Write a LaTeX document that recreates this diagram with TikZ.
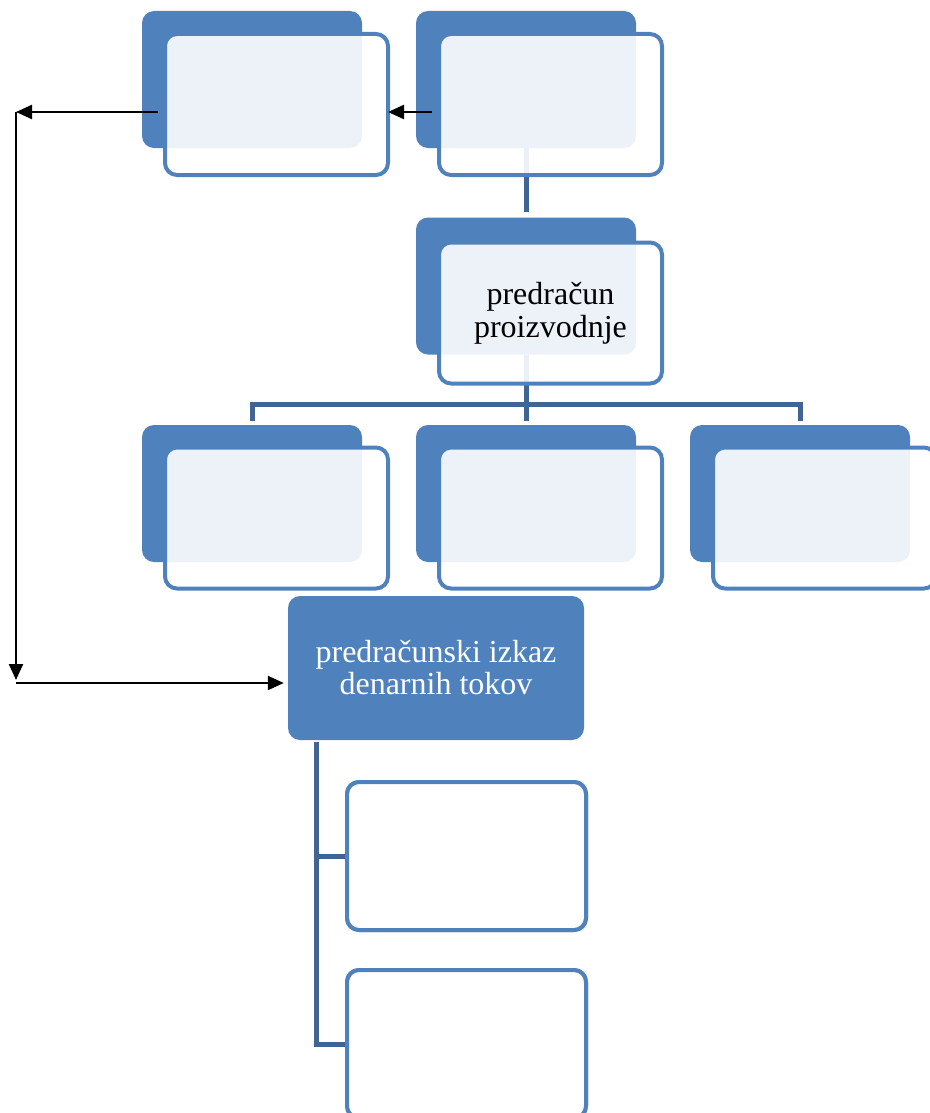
\documentclass[tikz,border=0pt]{standalone}
\usepackage{fontspec}
\setmainfont{Liberation Serif}
\usetikzlibrary{arrows.meta}
\definecolor{accblue}{RGB}{79,129,189}
\definecolor{connblue}{RGB}{64,100,148}
\begin{document}
\begin{tikzpicture}[x=1pt,y=1pt,
  back/.style={rectangle,rounded corners=12pt,fill=accblue,minimum width=220pt,minimum height=137pt,inner sep=0pt},
  front/.style={rectangle,rounded corners=12pt,fill=white,fill opacity=0.9,text opacity=1,draw=accblue,draw opacity=1,line width=4pt,minimum width=223pt,minimum height=141pt,inner sep=0pt,align=center,font=\fontsize{32}{33}\selectfont},
  dark/.style={rectangle,rounded corners=12pt,fill=accblue,minimum width=296pt,minimum height=144pt,inner sep=0pt,align=center,text=white,font=\fontsize{32}{32}\selectfont},
  plain/.style={rectangle,rounded corners=12pt,fill=white,draw=accblue,line width=4pt,minimum width=239pt,minimum height=148pt,inner sep=0pt},
  conn/.style={draw=connblue,line width=5pt},
  arr/.style={draw=black,line width=2.2pt,-{Triangle[length=16pt,width=14pt]}}]
\useasboundingbox (0,0) rectangle (929,-1113);
% back boxes
\node[back] (bTL) at (252,-79.5) {};
\node[back] (bTM) at (526,-79.5) {};
\node[back] (bM) at (526,-286) {};
\node[back] (bR1) at (252,-493.5) {};
\node[back] (bR2) at (526,-493.5) {};
\node[back] (bR3) at (800,-493.5) {};
% connectors
\coordinate (bus) at (526,-404);
\draw[conn,shorten >=5pt] (bTM.south) -- (bM.north);
\draw[conn] (bM.south) -- (bus);
\draw[conn] ([yshift=4pt]bR1.north) |- (bus) -| ([yshift=4pt]bR3.north);
\draw[conn] (bus) -- ([yshift=4pt]bR2.north);
% front boxes
\node[front] (fTL) at (276.5,-104.5) {};
\node[front] (fTM) at (550.5,-104.5) {};
\node[front] (fM) at (550.5,-313) {predračun\\proizvodnje};
\node[front] (fR1) at (276.5,-518) {};
\node[front] (fR2) at (550.5,-518) {};
\node[front] (fR3) at (824.5,-518) {};
% dark box and lower boxes
\node[dark] (dk) at (436,-668) {predračunski izkaz\\denarnih tokov};
\node[plain] (bot1) at (466.5,-856) {};
\node[plain] (bot2) at (466.5,-1044) {};
\coordinate (vtop) at ([xshift=29pt,yshift=-2pt]dk.south west);
\draw[conn] (vtop) |- (bot2.west);
\draw[conn] (vtop |- bot1.west) -- (bot1.west);
\node[plain] at (bot1) {};
\node[plain] at (bot2) {};
% black arrows
\coordinate (c1) at (16,-112);
\coordinate (c2) at (16,-683);
\draw[arr] ([xshift=-5pt,yshift=-7.5pt]fTL.west) -- (c1);
\draw[arr] (c1) -- ([yshift=3pt]c2);
\draw[arr] (c2) -- ([xshift=-4pt,yshift=-15pt]dk.west);
\draw[arr] ([xshift=-5pt,yshift=-7.5pt]fTM.west) -- ([xshift=-2pt,yshift=-7.5pt]fTL.east);
\end{tikzpicture}
\end{document}
